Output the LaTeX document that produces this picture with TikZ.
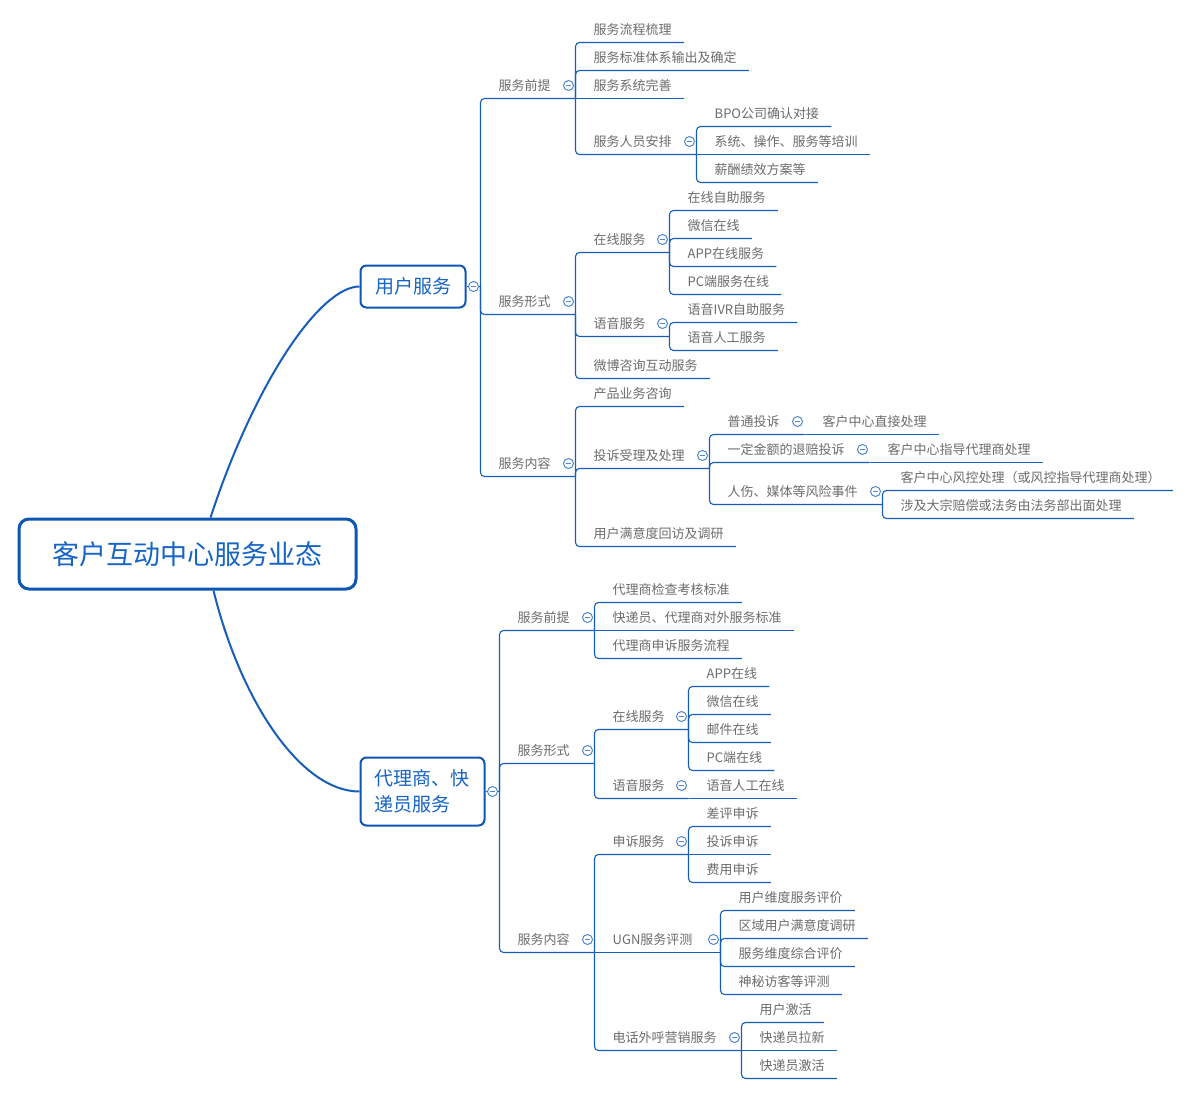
\documentclass[tikz,border=0pt]{standalone}
\usepackage{fontspec}
\setmainfont{Noto Sans CJK SC}
\usetikzlibrary{calc}
\definecolor{lineblue}{RGB}{22,94,184}
\definecolor{boxblue}{RGB}{14,86,180}
\definecolor{txtblue}{RGB}{22,100,196}
\definecolor{txtgray}{RGB}{108,108,108}
\definecolor{circblue}{RGB}{80,135,205}
\tikzset{
 leaf/.style={inner sep=0pt, anchor=base west, text=txtgray, font=\fontsize{13}{15}\selectfont},
 conn/.style={draw=lineblue, line width=1.1pt},
 tog/.style={circle, draw=circblue, fill=white, line width=1pt, minimum size=10pt, inner sep=0pt,
   path picture={\draw[circblue, line width=1pt] ([xshift=-2.6pt]path picture bounding box.center) -- ([xshift=2.6pt]path picture bounding box.center);}},
 mainbox/.style={draw=boxblue, line width=2pt, rounded corners=6pt, fill=white, text=txtblue, font=\fontsize{19}{26}\selectfont},
 rootbox/.style={draw=boxblue, line width=3pt, rounded corners=10pt, fill=white, text=txtblue, font=\fontsize{27}{32}\selectfont},
 trunk/.style={draw=lineblue, line width=2pt},
}
% #1 spine x, #2 parent y, #3 own y, #4 end coordinate
\newcommand\BranchTo[4]{%
 \ifdim #2pt=#3pt
  \draw[conn] (#1,#3) -- #4;
 \else
  \draw[conn, rounded corners=4pt] (#1,#2) -- (#1,#3) -- #4;
 \fi}
% leaf: name, spine x, parent y, own y, text
\newcommand\Lf[5]{%
 \node[leaf] (#1) at ({#2+18},{#4-8}) {#5};
 \BranchTo{#2}{#3}{#4}{($(#1.base east)+(12,8)$)}}
% topic with children: name, spine x, parent y, own y, text, child spine x
\newcommand\Tp[6]{%
 \node[leaf] (#1) at ({#2+18},{#4-8}) {#5};
 \coordinate (#1-s) at (#6,#4);
 \BranchTo{#2}{#3}{#4}{(#1-s)}
 \node[tog] (#1-t) at ({#6-7},{#4-13}) {};}
\begin{document}
\begin{tikzpicture}[x=1pt,y=-1pt]
\fill[white] (0,0) rectangle (1188,1094);
\useasboundingbox (0,0) rectangle (1188,1094);
\begin{scope}[shift={(0.5,0.5)}]
% root and main boxes
\node[rootbox, minimum width=337pt, minimum height=70pt] (root) at (187,553.5) {客户互动中心服务业态};
\node[mainbox, minimum width=105pt, minimum height=42pt, inner sep=0pt] (u) at (412.5,286) {用户服务};
\node[mainbox, minimum width=124pt, minimum height=68pt, text width=96pt, align=left, inner xsep=14pt, inner ysep=0pt] (d) at (422,791) {代理商、快\\递员服务};
\draw[trunk] ([xshift=23pt]root.north) .. controls (255,380) and (320,286) .. (u.west);
\draw[trunk] ([xshift=26pt]root.south) .. controls (240,700) and (300,791) .. (d.west);

% ---------- 用户服务 ----------
\draw[conn] (u.east) -- (480,286);
\node[tog] (u-t) at (473,286) {};
\Tp{a1}{480}{286}{98}{服务前提}{575}
 \Lf{a11}{575}{98}{42}{服务流程梳理}
 \Lf{a12}{575}{98}{70}{服务标准体系输出及确定}
 \Lf{a13}{575}{98}{98}{服务系统完善}
 \Tp{a14}{575}{98}{154}{服务人员安排}{696}
  \Lf{a141}{696}{154}{126}{BPO公司确认对接}
  \Lf{a142}{696}{154}{154}{系统、操作、服务等培训}
  \Lf{a143}{696}{154}{182}{薪酬绩效方案等}
\Tp{a2}{480}{286}{314}{服务形式}{575}
 \Tp{a21}{575}{314}{252}{在线服务}{669}
  \Lf{a211}{669}{252}{210}{在线自助服务}
  \Lf{a212}{669}{252}{238}{微信在线}
  \Lf{a213}{669}{252}{266}{APP在线服务}
  \Lf{a214}{669}{252}{294}{PC端服务在线}
 \Tp{a22}{575}{314}{336}{语音服务}{669}
  \Lf{a221}{669}{336}{322}{语音IVR自助服务}
  \Lf{a222}{669}{336}{350}{语音人工服务}
 \Lf{a23}{575}{314}{378}{微博咨询互动服务}
\Tp{a3}{480}{286}{476}{服务内容}{575}
 \Lf{a31}{575}{476}{406}{产品业务咨询}
 \Tp{a32}{575}{476}{468}{投诉受理及处理}{709}
  \Tp{a321}{709}{468}{434}{普通投诉}{804}
   \Lf{a3211}{804}{434}{434}{客户中心直接处理}
  \Tp{a322}{709}{468}{462}{一定金额的退赔投诉}{869}
   \Lf{a3221}{869}{462}{462}{客户中心指导代理商处理}
  \Tp{a323}{709}{468}{504}{人伤、媒体等风险事件}{882}
   \Lf{a3231}{882}{504}{490}{客户中心风控处理（或风控指导代理商处理）}
   \Lf{a3232}{882}{504}{518}{涉及大宗赔偿或法务由法务部出面处理}
 \Lf{a33}{575}{476}{546}{用户满意度回访及调研}

% ---------- 代理商、快递员服务 ----------
\draw[conn] (d.east) -- (499,791);
\node[tog] (d-t) at (492,791) {};
\Tp{b1}{499}{791}{630}{服务前提}{594}
 \Lf{b11}{594}{630}{602}{代理商检查考核标准}
 \Lf{b12}{594}{630}{630}{快递员、代理商对外服务标准}
 \Lf{b13}{594}{630}{658}{代理商申诉服务流程}
\Tp{b2}{499}{791}{763}{服务形式}{594}
 \Tp{b21}{594}{763}{729}{在线服务}{688}
  \Lf{b211}{688}{729}{686}{APP在线}
  \Lf{b212}{688}{729}{714}{微信在线}
  \Lf{b213}{688}{729}{742}{邮件在线}
  \Lf{b214}{688}{729}{770}{PC端在线}
 \Tp{b22}{594}{763}{798}{语音服务}{688}
  \Lf{b221}{688}{798}{798}{语音人工在线}
\Tp{b3}{499}{791}{952}{服务内容}{594}
 \Tp{b31}{594}{952}{854}{申诉服务}{688}
  \Lf{b311}{688}{854}{826}{差评申诉}
  \Lf{b312}{688}{854}{854}{投诉申诉}
  \Lf{b313}{688}{854}{882}{费用申诉}
 \Tp{b32}{594}{952}{952}{UGN服务评测}{720}
  \Lf{b321}{720}{952}{910}{用户维度服务评价}
  \Lf{b322}{720}{952}{938}{区域用户满意度调研}
  \Lf{b323}{720}{952}{966}{服务维度综合评价}
  \Lf{b324}{720}{952}{994}{神秘访客等评测}
 \Tp{b33}{594}{952}{1050}{电话外呼营销服务}{741}
  \Lf{b331}{741}{1050}{1022}{用户激活}
  \Lf{b332}{741}{1050}{1050}{快递员拉新}
  \Lf{b333}{741}{1050}{1078}{快递员激活}
\end{scope}
\end{tikzpicture}
\end{document}
